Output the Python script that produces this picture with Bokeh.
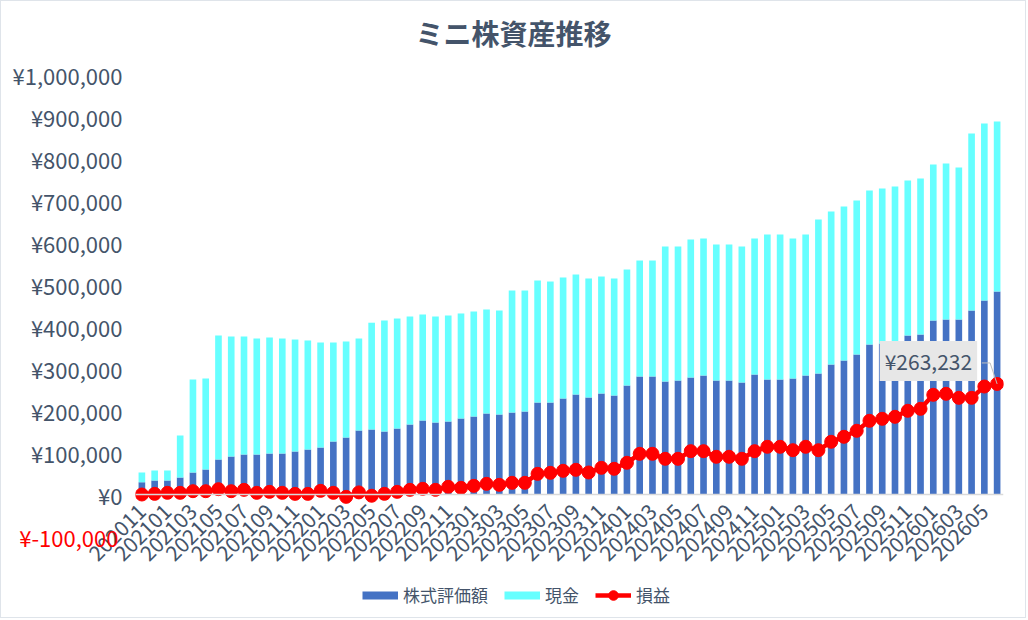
import math
from bokeh.plotting import figure
from bokeh.models import (ColumnDataSource, FixedTicker, Legend, LegendItem,
                          Label, Span, Range1d, LinearAxis)
from bokeh.embed import file_html
from bokeh.resources import INLINE

months = [
    "202011", "202012",
    "202101", "202102", "202103", "202104", "202105", "202106",
    "202107", "202108", "202109", "202110", "202111", "202112",
    "202201", "202202", "202203", "202204", "202205", "202206",
    "202207", "202208", "202209", "202210", "202211", "202212",
    "202301", "202302", "202303", "202304", "202305", "202306",
    "202307", "202308", "202309", "202310", "202311", "202312",
    "202401", "202402", "202403", "202404", "202405", "202406",
    "202407", "202408", "202409", "202410", "202411", "202412",
    "202501", "202502", "202503", "202504", "202505", "202506",
    "202507", "202508", "202509", "202510", "202511", "202512",
    "202601", "202602", "202603", "202604", "202605", "202606",
]

# 株式評価額
stock = [
    29300, 33300, 33300, 40500, 52400, 59500, 83300, 90500, 95200, 95200,
    97600, 97600, 102400, 107100, 111900, 126200, 135700, 152400, 154800, 150000,
    157100, 166700, 176200, 171400, 173800, 181000, 185700, 192900, 190500, 195200,
    197600, 219000, 219000, 228600, 238100, 231000, 240500, 235700, 259500, 281000,
    281000, 269000, 271400, 278600, 283300, 271400, 271400, 266700, 285700, 273800,
    273800, 276200, 283300, 288100, 309500, 319000, 333300, 357100, 359500, 364300,
    378600, 381000, 414300, 416700, 416700, 438100, 461900, 483300,
]

# 現金
cash = [
    23100, 23800, 23800, 100000, 221400, 216700, 295300, 285700, 281000, 276200,
    276200, 273800, 266600, 259600, 250000, 235700, 228600, 219000, 254200, 264300,
    261900, 257100, 252400, 252400, 252400, 250000, 250000, 247600, 247600, 290500,
    288100, 290500, 288100, 288100, 285700, 283300, 278500, 278600, 276200, 276100,
    276100, 321500, 319100, 328500, 326200, 323800, 323800, 323800, 323800, 345200,
    345200, 333300, 335700, 366700, 364300, 366700, 366700, 366700, 369100, 369000,
    369000, 371400, 371400, 371400, 361900, 421400, 421400, 404800,
]

# 損益
pnl = [
    0, 1500, 4000, 4000, 7900, 7900, 12700, 7900, 11100, 4000,
    6300, 4000, 1500, 1500, 8700, 4000, -5600, 5000, -3000, 1600,
    6300, 11100, 13500, 11100, 18300, 15900, 20600, 25400, 23000, 27800,
    27800, 49200, 51600, 56400, 58800, 52400, 63500, 61200, 75500, 96900,
    96900, 85000, 85000, 103200, 103200, 89800, 89800, 85000, 103200, 113600,
    113600, 105500, 113600, 105500, 125500, 137400, 151700, 175500, 180200, 185000,
    199300, 204000, 237400, 239800, 230200, 230200, 257100, 263232,
]

y_ticks = [0, 100000, 200000, 300000, 400000, 500000, 600000, 700000, 800000, 900000, 1000000]
neg_ticks = [-100000]

TITLE = "ミニ株資産推移"
SERIES = ["株式評価額", "現金", "損益"]
BLUE = "#4472C4"
CYAN = "#66FFFF"
RED = "#FF0000"
TXT = "#44546A"
FONT = "Noto Sans CJK JP"

idx = list(range(len(months)))
src = ColumnDataSource(dict(x=idx, month=months, stock=stock, cash=cash, pnl=pnl))

x_start, x_end = -0.5, len(months) - 0.5
y_start, y_end = -297619, 1173810
p = figure(width=1026, height=618, output_backend="svg", toolbar_location=None,
           x_range=Range1d(x_start, x_end), y_range=Range1d(y_start, y_end),
           x_axis_location=None,
           min_border_left=134, min_border_right=24, min_border_top=0,
           min_border_bottom=0)
p.styles = {"border": "1px solid #dfe4ea"}

p.outline_line_color = None
p.xgrid.grid_line_color = None
p.ygrid.grid_line_color = None
p.background_fill_color = "white"
p.border_fill_color = "white"

# chart title
p.add_layout(Label(x=(x_start + x_end) / 2, y=y_end, text=TITLE, text_align="center",
                   text_baseline="middle", x_offset=-56, y_offset=-31,
                   text_font=FONT, text_font_size="28px", text_font_style="bold",
                   text_color=TXT))

bars = p.vbar_stack(["stock", "cash"], x="x", width=0.52, color=[BLUE, CYAN],
                    line_color=None, source=src)
p.add_layout(Span(location=0, dimension="width", line_color="#d9d9d9", line_width=1.5))
r_line = p.line("x", "pnl", source=src, line_color=RED, line_width=4.5)
r_pts = p.scatter("x", "pnl", source=src, size=13, color=RED)

# x axis (category labels pulled up under the zero line)
xax = LinearAxis(ticker=FixedTicker(ticks=idx[::2]),
                 major_label_overrides={i: months[i] for i in idx},
                 major_label_orientation=math.pi / 4,
                 axis_line_color=None, major_tick_line_color=None,
                 minor_tick_line_color=None, major_tick_out=0, major_tick_in=0,
                 minor_tick_out=0, major_label_text_font=FONT,
                 major_label_text_font_size="21px", major_label_text_color=TXT,
                 major_label_standoff=-112)
p.add_layout(xax, "below")

# callout for the last value
last = len(months) - 1
p.multi_line(xs=[[idx[last], idx[last] - 0.55, idx[last] - 1.2]],
             ys=[[pnl[last], pnl[last] + 50000, pnl[last] + 50000]],
             line_color="#bfbfbf", line_width=1)
p.add_layout(Label(x=idx[last], y=pnl[last], text=f"¥{pnl[last]:,}", text_align="right",
                   text_baseline="middle", x_offset=-20, y_offset=23,
                   text_font=FONT, text_font_size="21px", text_color=TXT,
                   background_fill_color="#e7e7e7", padding=5))

# y axis
p.yaxis.ticker = FixedTicker(ticks=y_ticks)
p.yaxis.major_label_overrides = {t: f"¥{t:,}" for t in y_ticks}
for ax in p.yaxis:
    ax.axis_line_color = None
    ax.major_tick_line_color = None
    ax.minor_tick_line_color = None
    ax.major_tick_out = 0
    ax.major_tick_in = 0
    ax.minor_tick_out = 0
    ax.major_label_text_font = FONT
    ax.major_label_text_font_size = "22px"
    ax.major_label_text_color = TXT
    ax.major_label_standoff = 13

neg_axis = LinearAxis(ticker=FixedTicker(ticks=neg_ticks),
                      major_label_overrides={t: f"¥{t:,}" for t in neg_ticks},
                      axis_line_color=None, major_tick_line_color=None,
                      minor_tick_line_color=None, major_tick_out=0, major_tick_in=0,
                      minor_tick_out=0, major_label_text_font=FONT,
                      major_label_text_font_size="22px", major_label_text_color=RED,
                      major_label_standoff=-109)
p.add_layout(neg_axis, "left")

# legend (single-point line glyphs mimic the thick bar swatches)
d_blue = p.line(x=idx[:1], y=stock[:1], line_color=BLUE, line_width=8)
d_cyan = p.line(x=idx[:1], y=stock[:1], line_color=CYAN, line_width=8)
legend = Legend(items=[LegendItem(label=SERIES[0], renderers=[d_blue]),
                       LegendItem(label=SERIES[1], renderers=[d_cyan]),
                       LegendItem(label=SERIES[2], renderers=[r_line, r_pts])],
                orientation="horizontal", location=(227, 12),
                glyph_width=36, glyph_height=24, label_standoff=5, spacing=16,
                label_text_font=FONT, label_text_font_size="17px",
                label_text_color=TXT, border_line_color=None,
                background_fill_alpha=0, padding=4, margin=0)
p.add_layout(legend)

open("out.html", "w").write(file_html(p, INLINE))
